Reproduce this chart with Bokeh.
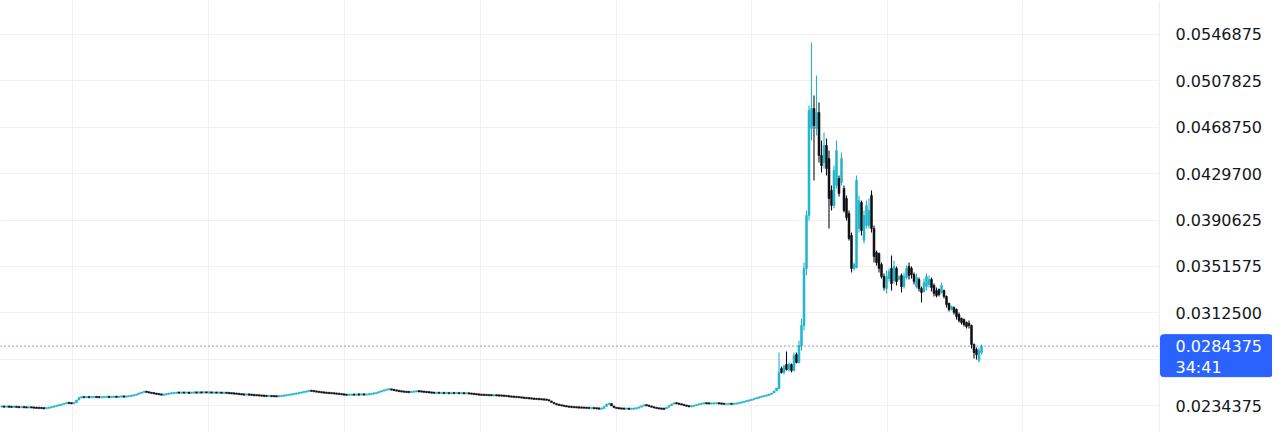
from bokeh.plotting import figure
from bokeh.layouts import row
from bokeh.models import FixedTicker, Span, Grid
from bokeh.core.properties import value
from bokeh.embed import file_html
from bokeh.resources import INLINE

# ---------------- data ----------------
# calm period: closes only, every candle opens at the previous close
head_close = [
    0.02335, 0.02334, 0.02335, 0.02333, 0.02332, 0.02334, 0.02331, 0.02330, 0.02331, 0.02329,
    0.02327, 0.02329, 0.02327, 0.02325, 0.02324, 0.02323, 0.02322, 0.02320, 0.02323, 0.02327,
    0.02332, 0.02337, 0.02344, 0.02348, 0.02354, 0.02361, 0.02367, 0.02364, 0.02362, 0.02366,
    0.02390, 0.02411, 0.02415, 0.02413, 0.02415, 0.02414, 0.02415, 0.02416, 0.02415, 0.02414,
    0.02414, 0.02416, 0.02417, 0.02415, 0.02417, 0.02418, 0.02416, 0.02419, 0.02420, 0.02418,
    0.02421, 0.02424, 0.02428, 0.02431, 0.02440, 0.02447, 0.02455, 0.02462, 0.02457, 0.02452,
    0.02448, 0.02445, 0.02441, 0.02438, 0.02434, 0.02436, 0.02441, 0.02445, 0.02448, 0.02450,
    0.02453, 0.02452, 0.02453, 0.02452, 0.02453, 0.02450, 0.02452, 0.02454, 0.02452, 0.02454,
    0.02453, 0.02455, 0.02453, 0.02454, 0.02452, 0.02453, 0.02452, 0.02453, 0.02450, 0.02452,
    0.02449, 0.02448, 0.02446, 0.02445, 0.02442, 0.02440, 0.02437, 0.02435, 0.02437, 0.02435,
    0.02433, 0.02431, 0.02430, 0.02428, 0.02427, 0.02425, 0.02424, 0.02424, 0.02423, 0.02422,
    0.02421, 0.02423, 0.02425, 0.02428, 0.02432, 0.02435, 0.02439, 0.02442, 0.02447, 0.02450,
    0.02455, 0.02459, 0.02464, 0.02468, 0.02467, 0.02463, 0.02460, 0.02457, 0.02454, 0.02452,
    0.02450, 0.02449, 0.02447, 0.02445, 0.02443, 0.02441, 0.02438, 0.02435, 0.02434, 0.02435,
    0.02436, 0.02435, 0.02437, 0.02436, 0.02438, 0.02436, 0.02437, 0.02440, 0.02443, 0.02447,
    0.02452, 0.02459, 0.02467, 0.02474, 0.02480, 0.02481, 0.02476, 0.02473, 0.02468, 0.02464,
    0.02462, 0.02459, 0.02458, 0.02457, 0.02459, 0.02462, 0.02464, 0.02463, 0.02461, 0.02458,
    0.02457, 0.02454, 0.02452, 0.02450, 0.02451, 0.02449, 0.02450, 0.02448, 0.02449, 0.02447,
    0.02449, 0.02448, 0.02449, 0.02447, 0.02448, 0.02446, 0.02447, 0.02445, 0.02442, 0.02440,
    0.02437, 0.02435, 0.02434, 0.02433, 0.02432, 0.02431, 0.02430, 0.02430, 0.02429, 0.02428,
    0.02427, 0.02425, 0.02423, 0.02420, 0.02418, 0.02416, 0.02415, 0.02413, 0.02410, 0.02408,
    0.02406, 0.02404, 0.02402, 0.02400, 0.02399, 0.02397, 0.02395, 0.02394, 0.02392, 0.02382,
    0.02369, 0.02358, 0.02352, 0.02347, 0.02343, 0.02339, 0.02335, 0.02333, 0.02331, 0.02329,
    0.02328, 0.02327, 0.02326, 0.02325, 0.02324, 0.02323, 0.02323, 0.02321, 0.02319, 0.02317,
    0.02318, 0.02335, 0.02356, 0.02361, 0.02340, 0.02325, 0.02322, 0.02319, 0.02318, 0.02317,
    0.02317, 0.02316, 0.02317, 0.02318, 0.02323, 0.02331, 0.02341, 0.02348, 0.02344, 0.02338,
    0.02331, 0.02325, 0.02321, 0.02318, 0.02317, 0.02316, 0.02329, 0.02344, 0.02357, 0.02365,
    0.02361, 0.02356, 0.02351, 0.02345, 0.02340, 0.02336, 0.02337, 0.02344, 0.02351, 0.02356,
    0.02361, 0.02363, 0.02362, 0.02361, 0.02361, 0.02362, 0.02363, 0.02361, 0.02359, 0.02356,
    0.02357, 0.02358, 0.02357, 0.02359, 0.02362, 0.02367, 0.02372, 0.02377, 0.02383, 0.02388,
    0.02395, 0.02401, 0.02408, 0.02415, 0.02420, 0.02425, 0.02431, 0.02438, 0.02449, 0.02466,
    0.02491,
]

# breakout and decline: full OHLC
tail_open = [
    0.02487, 0.02655, 0.02622, 0.02689, 0.02647, 0.02689, 0.02639, 0.02773, 0.02706, 0.02849,
    0.03018, 0.03498, 0.03944, 0.04677, 0.04845, 0.04677, 0.04812, 0.04450, 0.04391, 0.04534,
    0.04424, 0.04155, 0.04028, 0.04197, 0.04256, 0.04222, 0.04172, 0.04087, 0.03961, 0.03776,
    0.03498, 0.03506, 0.03835, 0.04054, 0.03734, 0.03860, 0.03860, 0.04113, 0.03835, 0.03633,
    0.03624, 0.03531, 0.03430, 0.03329, 0.03414, 0.03498, 0.03397, 0.03498, 0.03405, 0.03439,
    0.03346, 0.03422, 0.03515, 0.03498, 0.03447, 0.03346, 0.03405, 0.03329, 0.03304, 0.03346,
    0.03363, 0.03405, 0.03355, 0.03312, 0.03321, 0.03296, 0.03312, 0.03262, 0.03203, 0.03152,
    0.03169, 0.03152, 0.03110, 0.03077, 0.03068, 0.03043, 0.03035, 0.03018, 0.02858, 0.02815,
    0.02723, 0.02790,
]
tail_high = [
    0.02790, 0.02672, 0.02689, 0.02799, 0.02706, 0.02698, 0.02790, 0.02790, 0.02891, 0.03077,
    0.03548, 0.03986, 0.04871, 0.05401, 0.04955, 0.05123, 0.04896, 0.04576, 0.04643, 0.04593,
    0.04492, 0.04197, 0.04365, 0.04576, 0.04281, 0.04475, 0.04197, 0.04113, 0.03986, 0.03801,
    0.03548, 0.04281, 0.04113, 0.04071, 0.03986, 0.04071, 0.04087, 0.04155, 0.03860, 0.03649,
    0.03633, 0.03548, 0.03456, 0.03481, 0.03498, 0.03607, 0.03565, 0.03515, 0.03439, 0.03456,
    0.03464, 0.03523, 0.03548, 0.03515, 0.03464, 0.03456, 0.03422, 0.03346, 0.03414, 0.03456,
    0.03439, 0.03422, 0.03371, 0.03338, 0.03329, 0.03380, 0.03321, 0.03270, 0.03211, 0.03186,
    0.03178, 0.03161, 0.03127, 0.03085, 0.03077, 0.03051, 0.03060, 0.03026, 0.02866, 0.02832,
    0.02832, 0.02858,
]
tail_low = [
    0.02479, 0.02613, 0.02605, 0.02639, 0.02630, 0.02622, 0.02630, 0.02698, 0.02698, 0.02807,
    0.02976, 0.03439, 0.03902, 0.04576, 0.04239, 0.04618, 0.04391, 0.04306, 0.04340, 0.04281,
    0.03835, 0.03986, 0.04003, 0.04172, 0.04104, 0.04197, 0.03969, 0.03902, 0.03734, 0.03464,
    0.03481, 0.03498, 0.03801, 0.03776, 0.03708, 0.03835, 0.03835, 0.03801, 0.03548, 0.03523,
    0.03464, 0.03414, 0.03312, 0.03287, 0.03388, 0.03312, 0.03371, 0.03355, 0.03397, 0.03296,
    0.03329, 0.03405, 0.03405, 0.03414, 0.03363, 0.03329, 0.03304, 0.03211, 0.03296, 0.03312,
    0.03338, 0.03304, 0.03262, 0.03254, 0.03262, 0.03287, 0.03245, 0.03169, 0.03136, 0.03144,
    0.03110, 0.03068, 0.03043, 0.03026, 0.03009, 0.02992, 0.02992, 0.02824, 0.02740, 0.02731,
    0.02706, 0.02773,
]
tail_close = [
    0.02622, 0.02622, 0.02672, 0.02647, 0.02689, 0.02639, 0.02765, 0.02706, 0.02849, 0.03018,
    0.03498, 0.03944, 0.04829, 0.04845, 0.04702, 0.04812, 0.04450, 0.04365, 0.04534, 0.04340,
    0.04087, 0.04028, 0.04323, 0.04492, 0.04129, 0.04424, 0.03986, 0.03927, 0.03750, 0.03498,
    0.03531, 0.04239, 0.04071, 0.03818, 0.03944, 0.04028, 0.03986, 0.03835, 0.03599, 0.03548,
    0.03498, 0.03430, 0.03338, 0.03430, 0.03472, 0.03371, 0.03515, 0.03388, 0.03430, 0.03346,
    0.03430, 0.03498, 0.03439, 0.03447, 0.03388, 0.03422, 0.03329, 0.03296, 0.03380, 0.03430,
    0.03405, 0.03338, 0.03287, 0.03270, 0.03279, 0.03355, 0.03262, 0.03195, 0.03152, 0.03178,
    0.03127, 0.03093, 0.03060, 0.03043, 0.03026, 0.03009, 0.03018, 0.02858, 0.02790, 0.02773,
    0.02807, 0.0284375,
]

last_price = 0.0284375
countdown = "34:41"
price_ticks = [0.0234375, 0.0273425, 0.0312500, 0.0351575, 0.0390625,
               0.0429700, 0.0468750, 0.0507825, 0.0546875]
label_ticks = [0.0234375, 0.0312500, 0.0351575, 0.0390625,
               0.0429700, 0.0468750, 0.0507825, 0.0546875]
time_grid = [28.4, 82.8, 137.2, 191.6, 246.0, 300.0, 354.4, 408.4]

# ---------------- build OHLC ----------------
head_open = [head_close[0]] + head_close[:-1]
opens = head_open + tail_open
closes = head_close + tail_close
highs = [max(o, c) for o, c in zip(head_open, head_close)] + tail_high
lows = [min(o, c) for o, c in zip(head_open, head_close)] + tail_low
highs = [max(h, o, c) for h, o, c in zip(highs, opens, closes)]
lows = [min(l, o, c) for l, o, c in zip(lows, opens, closes)]
idx = list(range(len(closes)))

UP = "#22b5cc"
DOWN = "#0e0f14"
colors = [UP if c >= o else DOWN for o, c in zip(opens, closes)]

# ---------------- geometry ----------------
W_MAIN, W_SIDE, H = 1158, 114, 432
y_lo, y_hi = 0.0211639, 0.0575513
x_lo, x_hi = -0.4, 462.8
unit_per_px = (y_hi - y_lo) / H
min_body = 1.4 * unit_per_px

tops, bottoms = [], []
for o, c in zip(opens, closes):
    t, b = max(o, c), min(o, c)
    if t - b < min_body:
        m = (t + b) / 2
        t, b = m + min_body / 2, m - min_body / 2
    tops.append(t)
    bottoms.append(b)

FONT = "DejaVu Sans"

# ---------------- main chart ----------------
p = figure(width=W_MAIN, height=H, output_backend="svg", toolbar_location=None,
           x_range=(x_lo, x_hi), y_range=(y_lo, y_hi),
           x_axis_location=None, y_axis_location=None, min_border=0)
p.outline_line_color = None
p.background_fill_color = "white"
p.border_fill_color = "white"
p.grid.visible = False
p.add_layout(Grid(dimension=0, ticker=FixedTicker(ticks=time_grid),
                  grid_line_color="#eef0f4"))
p.add_layout(Grid(dimension=1, ticker=FixedTicker(ticks=price_ticks),
                  grid_line_color="#eef0f4"))

p.segment(x0=idx, x1=idx, y0=lows, y1=highs, line_color=colors, line_width=1.1)
p.vbar(x=idx, width=0.75, top=tops, bottom=bottoms,
       fill_color=colors, line_color=colors, line_width=0.6)

p.add_layout(Span(location=last_price, dimension="width", line_color="#2962ff",
                  line_dash="1 3", line_width=1.4))

# ---------------- price scale (right side) ----------------
s = figure(width=W_SIDE, height=H, output_backend="svg", toolbar_location=None,
           x_range=(0, W_SIDE), y_range=p.y_range,
           x_axis_location=None, y_axis_location=None, min_border=0)
s.outline_line_color = None
s.background_fill_color = "white"
s.border_fill_color = "white"
s.grid.visible = False
s.add_layout(Span(location=0.5, dimension="height", line_color="#e0e3eb", line_width=1))

s.text(x=[17] * len(label_ticks), y=label_ticks,
       text=[f"{t:.7f}" for t in label_ticks],
       text_font=value(FONT), text_font_size="16px", text_color="#131722",
       text_align="left", text_baseline="middle")

# current price tag
s.quad(left=2, right=W_SIDE, top=last_price + 11.5 * unit_per_px,
       bottom=last_price - 30.5 * unit_per_px,
       fill_color="#2962ff", line_color="#2962ff", border_radius=3)
s.text(x=[17, 17], y=[last_price, last_price], y_offset=[0, 21],
       text=[f"{last_price:.7f}", countdown],
       text_font=value(FONT), text_font_size="16px", text_color="white",
       text_align="left", text_baseline="middle")

layout = row(p, s, spacing=0)
open("out.html", "w").write(file_html(layout, INLINE))
